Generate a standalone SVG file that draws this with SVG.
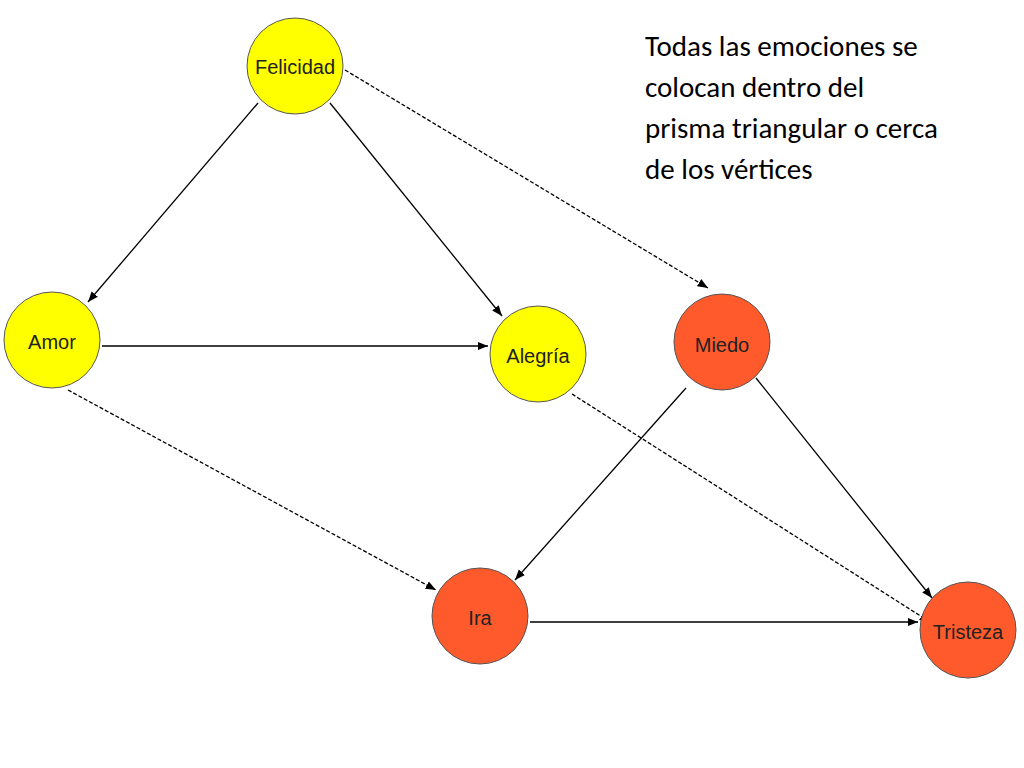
<svg xmlns="http://www.w3.org/2000/svg" width="1024" height="768" viewBox="0 0 1024 768">
<style>
.y{fill:#FFFF00;stroke:#555;stroke-width:1}
.o{fill:#FF5A2C;stroke:#555;stroke-width:1}
.l{font-family:"Liberation Sans",Arial,sans-serif;font-size:20px;fill:#222;text-anchor:middle}
.c{stroke:#000;stroke-width:1.3;fill:none;marker-end:url(#a)}
.d{stroke-dasharray:4,2}
.t{font-family:"Carlito","Liberation Sans",sans-serif;font-size:29px;fill:#000}
</style>
<defs><marker id="a" viewBox="0 0 10 10" refX="10" refY="5" markerWidth="8" markerHeight="8" orient="auto"><path d="M0,1 L10,5 L0,9 z" fill="#000"/></marker></defs>
<rect width="1024" height="768" fill="#fff"/>
<g id="connectors">
<line class="c" x1="258" y1="103" x2="88" y2="302"/>
<line class="c" x1="330" y1="103" x2="502" y2="316"/>
<line class="c d" x1="345" y1="70" x2="708" y2="288"/>
<line class="c" x1="102" y1="346" x2="488" y2="346"/>
<line class="c d" x1="68" y1="390" x2="436" y2="590"/>
<line class="c d" x1="572" y1="394" x2="930" y2="622"/>
<line class="c" x1="686" y1="388" x2="515" y2="580"/>
<line class="c" x1="756" y1="378" x2="932" y2="598"/>
<line class="c" x1="530" y1="622" x2="918" y2="622"/>
</g>
<g id="felicidad"><circle class="y" cx="295" cy="66" r="48"/><text class="l" x="295" y="74">Felicidad</text></g>
<g id="amor"><circle class="y" cx="52" cy="340" r="48"/><text class="l" x="52" y="349">Amor</text></g>
<g id="alegria"><circle class="y" cx="538" cy="354" r="48"/><text class="l" x="538" y="363">Alegría</text></g>
<g id="miedo"><circle class="o" cx="722" cy="342" r="48"/><text class="l" x="722" y="352">Miedo</text></g>
<g id="ira"><circle class="o" cx="480" cy="616" r="48"/><text class="l" x="480" y="625">Ira</text></g>
<g id="tristeza"><circle class="o" cx="968" cy="630" r="48"/><text class="l" x="968" y="639">Tristeza</text></g>
<g id="note">
<text class="t" x="645" y="56">Todas las emociones se</text>
<text class="t" x="645" y="97">colocan dentro del</text>
<text class="t" x="645" y="138">prisma triangular o cerca</text>
<text class="t" x="645" y="179">de los vértices</text>
</g>
</svg>
